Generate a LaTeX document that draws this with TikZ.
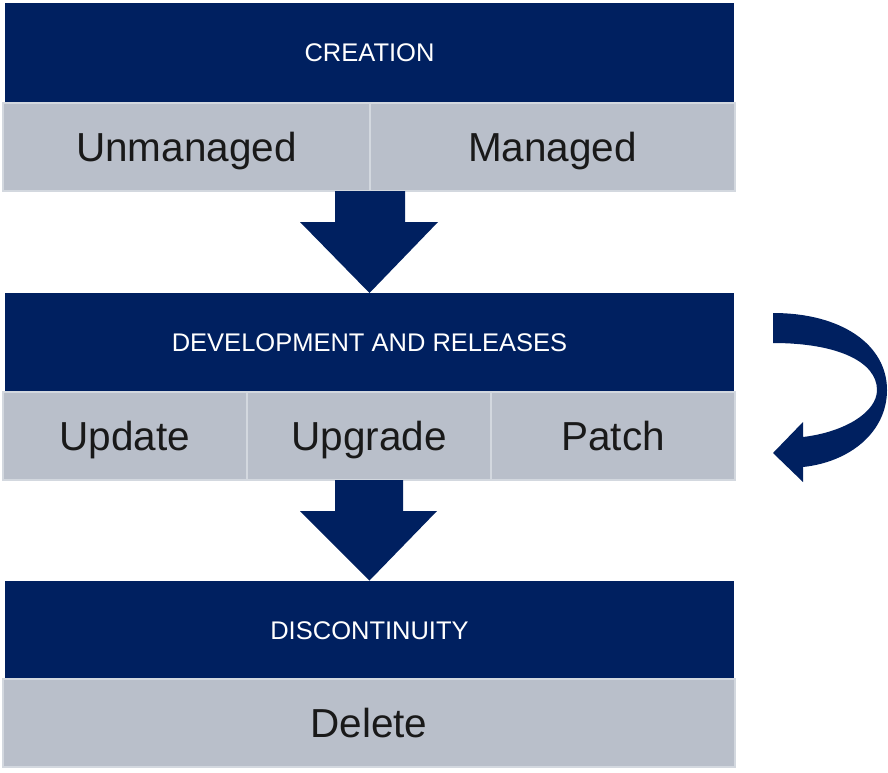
\documentclass[tikz,border=0pt]{standalone}
\usepackage{fontspec}
\setmainfont{Liberation Sans}
\usetikzlibrary{calc}
\definecolor{navy}{HTML}{002060}
\definecolor{cellgray}{HTML}{B9BFCA}
\definecolor{cellline}{HTML}{D3D8DF}
\tikzset{
  header/.style={fill=navy, draw=none, inner sep=0pt, outer sep=0pt,
    minimum width=729pt, minimum height=99pt, text=white,
    text height=23pt, text depth=4.7pt,
    font=\fontsize{25.5}{30}\selectfont},
  cell/.style={fill=cellgray, draw=cellline, line width=2pt, inner sep=0pt, outer sep=0pt,
    minimum height=88pt, text=black!90,
    text height=36.5pt, text depth=7.45pt,
    font=\fontsize{40.5}{46}\selectfont},
  blockarrow/.style={fill=navy, draw=none}
}
\begin{document}
\begin{tikzpicture}[x=1pt,y=-1pt]
\useasboundingbox (0,0) rectangle (888,772);
% headers
\node[header] (h1) at (369.5,52.5) {CREATION};
\node[header] (h2) at (369.5,342.5) {DEVELOPMENT AND RELEASES};
\node[header] (h3) at (369.5,630) {DISCONTINUITY};
% row 1
\node[cell, minimum width=367pt] (unm) at (186.5,146.5) {Unmanaged};
\node[cell, minimum width=365pt] (man) at (552.5,146.5) {Managed};
% row 2
\node[cell, minimum width=244pt] (upd) at (125,436) {Update};
\node[cell, minimum width=244pt] (upg) at (369,436) {Upgrade};
\node[cell, minimum width=244pt] (pat) at (613,436) {Patch};
% row 3
\node[cell, minimum width=732pt] (del) at (369,722.5) {Delete};
% block arrow 1
\coordinate (a1top) at (370,191);
\coordinate (a1tip) at (h2.north);
\fill[blockarrow] ($(a1top)+(-35,0)$) -- ($(a1top)+(35,0)$) -- ($(a1top)+(35,31)$)
  -- ($(a1top)+(68,31)$) -- (a1tip) -- ($(a1top)+(-70,31)$) -- ($(a1top)+(-35,31)$) -- cycle;
% block arrow 2
\coordinate (a2top) at (369,480);
\coordinate (a2tip) at (h3.north);
\fill[blockarrow] ($(a2top)+(-34,0)$) -- ($(a2top)+(34,0)$) -- ($(a2top)+(34,31)$)
  -- ($(a2top)+(68,31)$) -- (a2tip) -- ($(a2top)+(-69,31)$) -- ($(a2top)+(-34,31)$) -- cycle;
% curved arrow
\fill[navy] (773,313) .. controls (842,313) and (887,345) .. (887,390)
  .. controls (887,432) and (850,462) .. (803,467)
  -- (803,482) -- (773,453) -- (803,422) -- (803,437)
  .. controls (845,432) and (877,412) .. (877,390)
  .. controls (877,362) and (838,343) .. (773,343) -- cycle;
\end{tikzpicture}
\end{document}
